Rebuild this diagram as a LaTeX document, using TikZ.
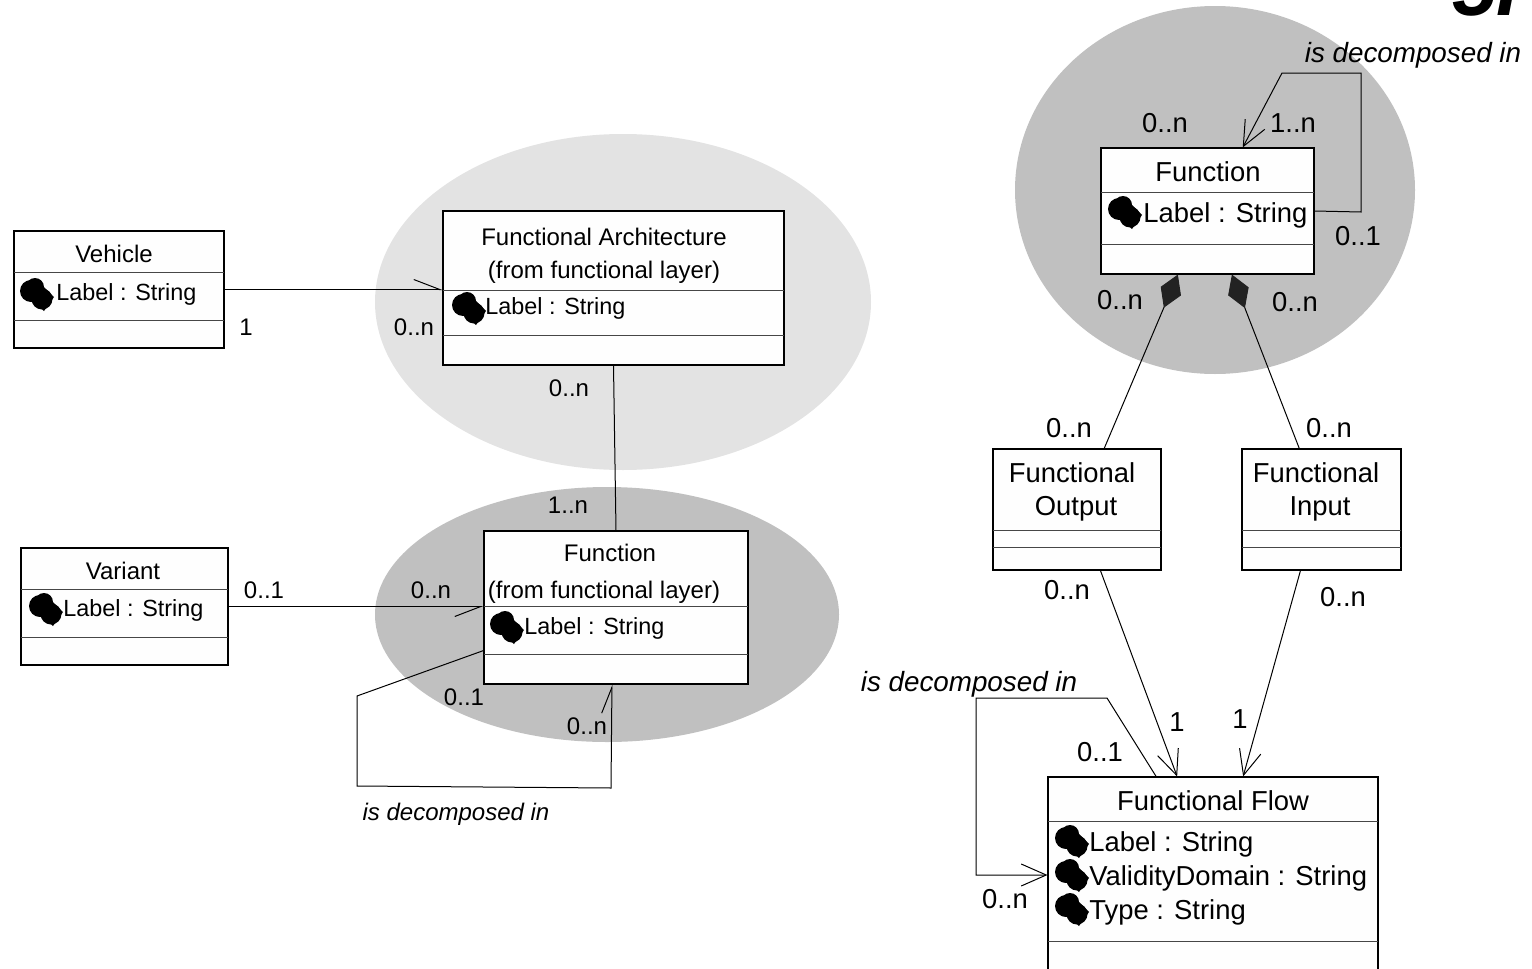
\documentclass[tikz,border=0pt]{standalone}
\usepackage{fontspec}
\setmainfont{Liberation Sans}
\usetikzlibrary{arrows.meta}
\definecolor{lightblob}{RGB}{227,227,227}
\definecolor{darkblob}{RGB}{192,192,192}
\definecolor{boxwhite}{RGB}{254,254,254}
\definecolor{sepgray}{RGB}{70,70,70}
\definecolor{diamondblack}{RGB}{34,34,34}
\tikzset{
  classbox/.style={draw=black, fill=boxwhite, line width=0.55pt, inner sep=0pt},
  smalltext/.style={font=\fontsize{12}{14}\selectfont, inner sep=0pt},
  attrsmall/.style={font=\fontsize{11.7}{14}\selectfont, inner sep=0pt, anchor=west},
  bigtext/.style={font=\fontsize{13.7}{16}\selectfont, inner sep=0pt},
  rolesmall/.style={font=\fontsize{12}{14}\itshape, inner sep=0pt},
  rolebig/.style={font=\fontsize{13.9}{16}\itshape, inner sep=0pt},
  link/.style={draw=black, line width=0.5pt},
  sep/.style={draw=sepgray, line width=0.5pt},
  openhead/.style={-{Straight Barb[length=12.5pt,width=11pt,line width=0.5pt]}},
  halfleft/.style={-{Straight Barb[left,length=13pt,width=10pt,line width=0.5pt]}},
  halfright/.style={-{Straight Barb[right,length=13pt,width=10pt,line width=0.5pt]}},
  owner/.style={{Diamond[length=18pt,width=11pt,color=diamondblack]}-},
  attricon/.pic={
    \fill (11,13) circle (11);
    \fill (15,9) circle (9);
    \fill (22,21) circle (10.5);
    \fill (24,9) -- (34,19) -- (24,33) -- (14,24) -- cycle;
  }
}
\begin{document}
\begin{tikzpicture}[x=0.5pt,y=-0.5pt]
  \clip (0,0) rectangle (1532,969);

  % shaded areas
  \fill [lightblob] (623,302) ellipse [x radius=248, y radius=168];
  \fill [darkblob] (607,614.5) ellipse [x radius=232, y radius=127.5];
  \fill [darkblob] (1215,190) ellipse [x radius=200, y radius=184];

  % left part
  \node [classbox, minimum width=105pt, minimum height=58.5pt] (vehicle) at (119,289.5) {};
  \node [classbox, minimum width=170.5pt, minimum height=77pt] (farch) at (613.5,288) {};
  \node [classbox, minimum width=132pt, minimum height=76.5pt] (func) at (616,607.5) {};
  \node [classbox, minimum width=103.5pt, minimum height=58.5pt] (variant) at (124.5,606.5) {};

  \draw [sep] (14,272) -- (224,272) (14,320) -- (224,320);
  \draw [sep] (443,290) -- (784,290) (443,335) -- (784,335);
  \draw [sep] (484,606) -- (748,606) (484,654) -- (748,654);
  \draw [sep] (21,589) -- (228,589) (21,637) -- (228,637);

  \node [smalltext] (vehiclename) at (114,254) {Vehicle};
  \pic at (20,278) {attricon};
  \node [attrsmall] (vehiclelabel) at (56,294.5) {Label : String};

  \node [smalltext] (farchname) at (604,237) {Functional Architecture};
  \node [smalltext] (farchfrom) at (604,272) {(from functional layer)};
  \pic at (452,292) {attricon};
  \node [attrsmall] (farchlabel) at (485,308.5) {Label : String};

  \node [smalltext] (funcname) at (610,553) {Function};
  \node [smalltext] (funcfrom) at (604,592) {(from functional layer)};
  \pic at (490,611) {attricon};
  \node [attrsmall] (funclabel) at (524,628.5) {Label : String};

  \node [smalltext] (variantname) at (123,571) {Variant};
  \pic at (29,593) {attricon};
  \node [attrsmall] (variantlabel) at (63,610.5) {Label : String};

  \draw [link, halfleft] (vehicle.east) -- (farch.west |- vehicle.east);
  \draw [link] (farch.south) -- (func.north);
  \draw [link, halfright] (variant.east) -- (func.west |- variant.east);

  \coordinate (loopa) at (357,696);
  \coordinate (loopb) at (357,786);
  \coordinate (loopc) at (611,788);
  \draw [link, halfleft] (func.198.6) -- (loopa) -- (loopb) -- (loopc) -- (func.267.8);

  \node [smalltext] (m1) at (246,327) {1};
  \node [smalltext] (m2) at (414,327) {0..n};
  \node [smalltext] (m3) at (569,388) {0..n};
  \node [smalltext] (m4) at (568,505) {1..n};
  \node [smalltext] (m5) at (264,590) {0..1};
  \node [smalltext] (m6) at (431,590) {0..n};
  \node [smalltext] (m7) at (464,697) {0..1};
  \node [smalltext] (m8) at (587,726) {0..n};
  \node [rolesmall] (roleleft) at (456,814) {is decomposed in};

  % right part
  \node [classbox, minimum width=106.5pt, minimum height=63pt] (funcr) at (1207.5,211) {};
  \node [classbox, minimum width=84pt, minimum height=60.5pt] (output) at (1077,509.5) {};
  \node [classbox, minimum width=79.5pt, minimum height=60.5pt] (input) at (1321.5,509.5) {};
  \node [classbox, minimum width=165pt, minimum height=98pt] (flow) at (1213,875) {};

  \draw [sep] (1101,192) -- (1314,192) (1101,244) -- (1314,244);
  \draw [sep] (993,530) -- (1161,530) (993,547) -- (1161,547);
  \draw [sep] (1242,530) -- (1401,530) (1242,547) -- (1401,547);
  \draw [sep] (1048,821) -- (1378,821) (1048,941) -- (1378,941);

  \node [bigtext] (funcrname) at (1208,172) {Function};
  \pic at (1108,196) {attricon};
  \node [bigtext, anchor=west] (funcrlabel) at (1143,215) {Label : String};

  \node [bigtext] (outputa) at (1072,473) {Functional};
  \node [bigtext] (outputb) at (1076,509) {Output};
  \node [bigtext] (inputa) at (1316,473) {Functional};
  \node [bigtext] (inputb) at (1320,509) {Input};

  \node [bigtext] (flowname) at (1213,801) {Functional Flow};
  \pic at (1055,825) {attricon};
  \pic at (1055,859) {attricon};
  \pic at (1055,893) {attricon};
  \node [bigtext, anchor=west] (flowlabel) at (1089,844) {Label : String};
  \node [bigtext, anchor=west] (flowdomain) at (1089,878) {ValidityDomain : String};
  \node [bigtext, anchor=west] (flowtype) at (1089,912) {Type : String};

  \coordinate (selfa) at (1361,212);
  \coordinate (selfb) at (1361,73);
  \coordinate (selfc) at (1282,73);
  \draw [link, openhead] (funcr.east) -- (selfa) -- (selfb) -- (selfc) -- (funcr.61.3);

  \draw [link, owner] (funcr.-115) -- (output.66);
  \draw [link, owner] (funcr.-69.5) -- (input.110.4);
  \draw [link, openhead] (output.-69) -- (flow.110.7);
  \draw [link, openhead] (input.-109) -- (flow.73.5);

  \coordinate (flowa) at (1107,698);
  \coordinate (flowb) at (976,698);
  \coordinate (flowc) at (976,875);
  \draw [link, openhead] (flow.120.6) -- (flowa) -- (flowb) -- (flowc) -- (flow.west);

  \node [rolebig] (roletop) at (1413,55) {is decomposed in};
  \node [bigtext] (n1) at (1165,123) {0..n};
  \node [bigtext] (n2) at (1293,123) {1..n};
  \node [bigtext] (n3) at (1358,236) {0..1};
  \node [bigtext] (n4) at (1120,300) {0..n};
  \node [bigtext] (n5) at (1295,302) {0..n};
  \node [bigtext] (n6) at (1069,428) {0..n};
  \node [bigtext] (n7) at (1329,428) {0..n};
  \node [bigtext] (n8) at (1067,590) {0..n};
  \node [bigtext] (n9) at (1343,597) {0..n};
  \node [rolebig] (roleflow) at (969,684) {is decomposed in};
  \node [bigtext] (n10) at (1177,722) {1};
  \node [bigtext] (n11) at (1240,719) {1};
  \node [bigtext] (n12) at (1100,752) {0..1};
  \node [bigtext] (n13) at (1005,899) {0..n};

  \node [font=\fontsize{40}{40}\bfseries\itshape, inner sep=0pt, anchor=base west] (pagenum) at (1452,15) {5F};
\end{tikzpicture}
\end{document}
